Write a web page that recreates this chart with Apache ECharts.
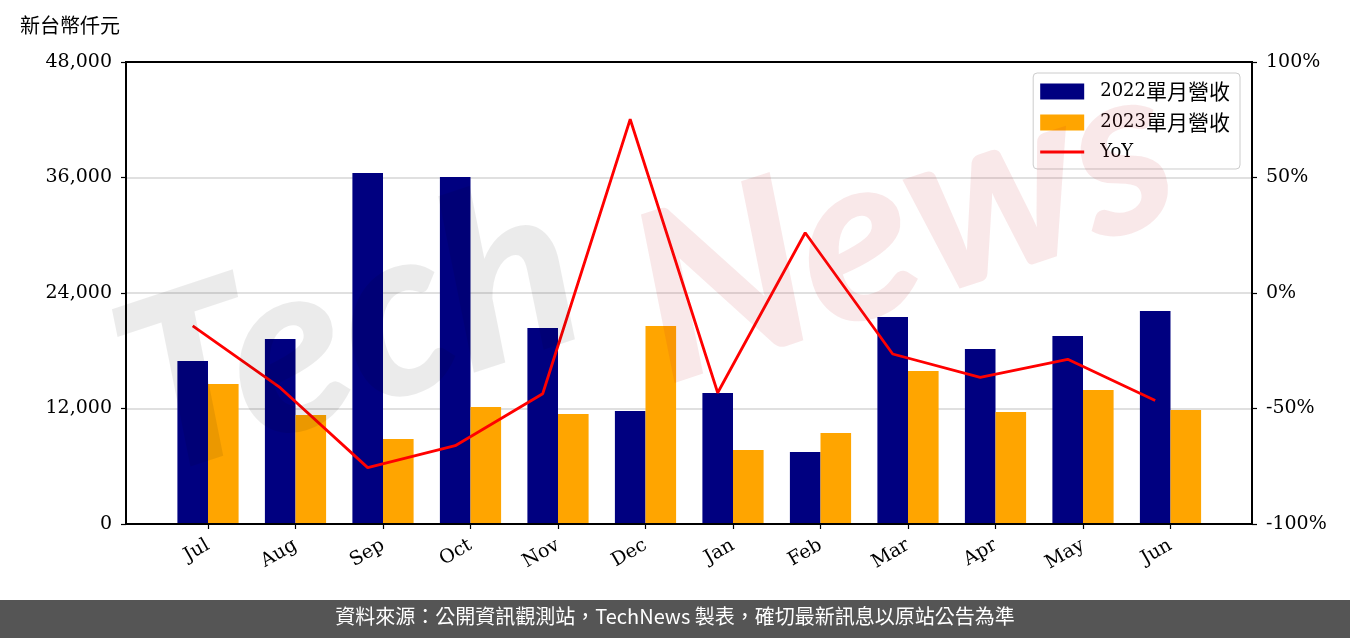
<!DOCTYPE html>
<html><head><meta charset="utf-8">
<script src="https://cdn.jsdelivr.net/npm/echarts@6/dist/echarts.min.js"></script>
<style>html,body{margin:0;padding:0;background:#fff}#c{width:1350px;height:638px}</style>
</head><body><div id="c"></div>
<script>
const categories = ['Jul','Aug','Sep','Oct','Nov','Dec','Jan','Feb','Mar','Apr','May','Jun'];
const rev2022 = [16935, 19221, 36468, 36052, 20364, 11740, 13610, 7481, 21506, 18182, 19532, 22130];
const rev2023 = [14545, 11325, 8831, 12156, 11429, 20571, 7688, 9455, 15896, 11636, 13922, 11844];
const yoy = [-14.2, -41.0, -75.6, -66.1, -43.6, 75.2, -43.2, 26.1, -26.4, -36.5, -28.7, -46.5];
const leftTicks = {min: 0, max: 48000, interval: 12000};
const rightTicks = {min: -100, max: 100, interval: 50};
const names = ['2022單月營收', '2023單月營收', 'YoY'];
const unitLabel = '新台幣仟元';
const footerText = '資料來源：公開資訊觀測站，TechNews 製表，確切最新訊息以原站公告為準';

const serif = "'DejaVu Serif', 'Noto Sans CJK TC', serif";
const cjk = "'Noto Sans CJK TC', sans-serif";
const chart = echarts.init(document.getElementById('c'), null, {renderer: 'canvas'});
const black = '#000';
const lineIcon = 'path://M0,0L0.01,0L0.01,0.01ZM0,6.5L44,6.5L44,9.5L0,9.5ZM0,16L0.01,16L0.01,15.99Z';
chart.setOption({
  animation: false,
  backgroundColor: '#fff',
  textStyle: {fontFamily: serif},
  grid: [
    {left: 126, top: 62, width: 1126, height: 462, show: true, borderColor: black, borderWidth: 2, backgroundColor: 'transparent', z: 6},
    {left: 164.25, top: 62, width: 1050, height: 462},
    {left: 148.95, top: 62, width: 1050, height: 462}
  ],
  legend: {
    orient: 'vertical', right: 110, top: 73,
    itemWidth: 44, itemHeight: 16, itemGap: 10,
    padding: [8, 10, 8, 7],
    borderColor: '#cccccc', borderWidth: 1, borderRadius: 4,
    backgroundColor: 'rgba(255,255,255,0.8)',
    formatter: function (name) {
      const m = name.match(/^([\x00-\x7F]*)(.*)$/);
      return '{a|' + m[1] + '}' + (m[2] ? '{b|' + m[2] + '}' : '');
    },
    textStyle: {color: black, padding: [0, 0, 0, 11],
      rich: {a: {fontFamily: serif, fontSize: 18, color: black, lineHeight: 20},
             b: {fontFamily: cjk, fontSize: 21, color: black, lineHeight: 20}}},
    data: [{name: names[0], icon: 'rect'}, {name: names[1], icon: 'rect'}, {name: names[2], icon: lineIcon}]
  },
  xAxis: [
    {gridIndex: 0, type: 'value', min: 0, max: 1, axisLine: {show: false}, axisTick: {show: false}, axisLabel: {show: false}, splitLine: {show: false}},
    {gridIndex: 1, type: 'category', data: categories, axisLine: {show: false},
     axisTick: {show: true, alignWithLabel: true, length: 5, lineStyle: {color: black, width: 1.2}},
     axisLabel: {rotate: 30, margin: 20, fontFamily: serif, fontSize: 19, color: black}},
    {gridIndex: 2, type: 'category', data: categories, show: false}
  ],
  yAxis: [
    {gridIndex: 0, type: 'value', position: 'left', min: leftTicks.min, max: leftTicks.max, interval: leftTicks.interval,
     axisLine: {show: true, lineStyle: {color: black, width: 2}},
     axisTick: {show: true, length: 5, lineStyle: {color: black, width: 1.2}},
     axisLabel: {margin: 14, fontFamily: serif, fontSize: 19, color: black, formatter: v => v.toLocaleString('en-US')},
     splitLine: {show: true, lineStyle: {color: '#d6d6d6', width: 1.5}}},
    {gridIndex: 0, type: 'value', position: 'right', min: rightTicks.min, max: rightTicks.max, interval: rightTicks.interval,
     axisLine: {show: true, lineStyle: {color: black, width: 2}},
     axisTick: {show: true, length: 5, lineStyle: {color: black, width: 1.2}},
     axisLabel: {margin: 14, fontFamily: serif, fontSize: 19, color: black, formatter: '{value}%'},
     splitLine: {show: false}},
    {gridIndex: 1, type: 'value', min: leftTicks.min, max: leftTicks.max, show: false},
    {gridIndex: 2, type: 'value', min: rightTicks.min, max: rightTicks.max, show: false}
  ],
  series: [
    {name: names[0], type: 'bar', xAxisIndex: 1, yAxisIndex: 2, data: rev2022, barWidth: 30.6, barGap: '0%', itemStyle: {color: '#000080'}},
    {name: names[1], type: 'bar', xAxisIndex: 1, yAxisIndex: 2, data: rev2023, barWidth: 30.6, barGap: '0%', itemStyle: {color: '#FFA500'}},
    {name: names[2], type: 'line', xAxisIndex: 2, yAxisIndex: 3, data: yoy, symbol: 'none', showSymbol: false, z: 5,
     lineStyle: {color: '#FF0000', width: 2.8}, itemStyle: {color: '#FF0000'}}
  ],
  graphic: [
    {type: 'text', x: 165, y: 520, rotation: 0.32, z: 100, silent: true,
     style: {text: 'Tech', font: 'italic 900 240px Lato, sans-serif', fill: 'rgba(0,0,0,0.08)', textAlign: 'left', textVerticalAlign: 'bottom'}},
    {type: 'text', x: 680, y: 425, rotation: 0.32, z: 100, silent: true,
     style: {text: 'News', font: 'italic 900 235px Lato, sans-serif', fill: 'rgba(200,30,40,0.1)', textAlign: 'left', textVerticalAlign: 'bottom'}},
    {type: 'text', left: 20, top: 15, z: 10, style: {text: unitLabel, font: "20px 'Noto Sans CJK TC', sans-serif", fill: black}},
    {type: 'rect', left: 0, top: 600, z: 10, shape: {width: 1350, height: 38}, style: {fill: '#555555'}},
    {type: 'text', left: 'center', top: 606, z: 11, style: {text: footerText, font: "20px 'Noto Sans CJK TC', sans-serif", fill: '#ffffff'}}
  ]
});
</script></body></html>
